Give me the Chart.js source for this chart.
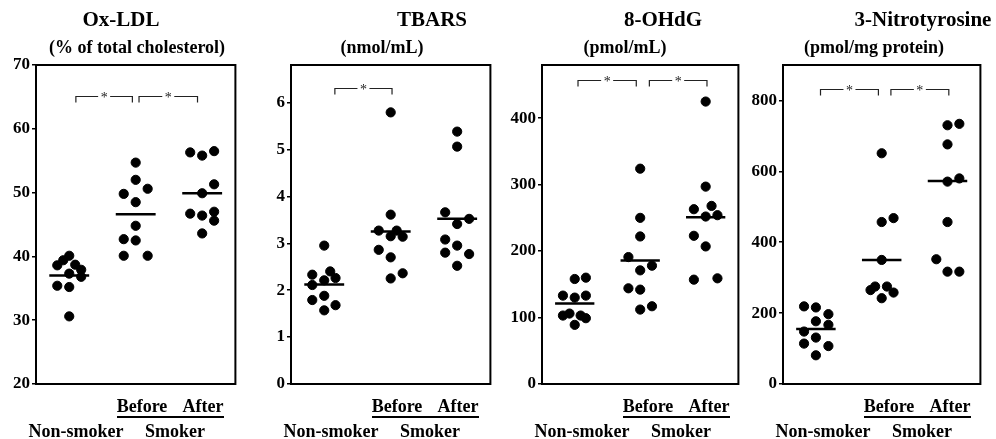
<!DOCTYPE html>
<html>
<head>
<meta charset="utf-8">
<script src="https://cdn.jsdelivr.net/npm/chart.js@4.4.1/dist/chart.umd.min.js"></script>
<style>
  body { margin: 0; background: #fff; width: 996px; height: 439px; position: relative; overflow: hidden;
         font-family: "Liberation Serif", "Times New Roman", serif; font-weight: bold; color: #000; }
  canvas { position: absolute; top: 0; }
  .t { position: absolute; transform: translate(-50%, -50%); white-space: nowrap; line-height: 1; }
  .title { font-size: 21px; }
  .unit { font-size: 18px; }
  .cat { font-size: 18px; }
  .uline { position: absolute; height: 1.5px; background: #000; }
</style>
</head>
<body>
<script>
// group centres on the x axis: Non-smoker, Before, After
const groupX = [0.5, 1.5, 2.5];

// Ox-LDL (% of total cholesterol)
const oxNon = [38.6, 39.4, 40.1, 38.7, 37.9, 36.8, 37.3, 35.4, 35.2, 30.6];
const oxNonJit = [-0.18, -0.09, 0, 0.09, 0.18, 0.18, 0, -0.18, 0, 0];
const oxBefore = [54.7, 52.0, 49.8, 50.6, 48.5, 44.8, 42.7, 42.5, 40.1, 40.1];
const oxBeforeJit = [0, 0, -0.18, 0.18, 0, 0, -0.18, 0, -0.18, 0.18];
const oxAfter = [56.3, 55.8, 56.5, 51.3, 49.9, 46.7, 46.4, 47.0, 45.6, 43.6];
const oxAfterJit = [-0.18, 0, 0.18, 0.18, 0, -0.18, 0, 0.18, 0.18, 0];
const oxMeans = [37.0, 46.6, 49.9];
const oxTicks = [20, 70, 10];

// TBARS (nmol/mL)
const tbNon = [2.95, 2.33, 2.40, 2.21, 2.26, 2.11, 1.88, 1.79, 1.68, 1.57];
const tbNonJit = [0, -0.18, 0.09, 0, 0.17, -0.18, 0, -0.18, 0.17, 0];
const tbBefore = [5.79, 3.61, 3.27, 3.27, 3.15, 3.14, 2.86, 2.70, 2.36, 2.25];
const tbBeforeJit = [0, 0, -0.18, 0.09, 0, 0.18, -0.18, 0, 0.18, 0];
const tbAfter = [5.38, 5.06, 3.66, 3.52, 3.41, 3.08, 2.95, 2.80, 2.77, 2.52];
const tbAfterJit = [0, 0, -0.18, 0.18, 0, -0.18, 0, -0.18, 0.18, 0];
const tbMeans = [2.12, 3.25, 3.52];
const tbTicks = [0, 6.8, 1];

// 8-OHdG (pmol/mL)
const ohNon = [158, 160, 133, 130, 133, 103, 106, 103, 99, 89];
const ohNonJit = [0, 0.17, -0.18, 0, 0.17, -0.18, -0.08, 0.09, 0.17, 0];
const ohBefore = [324, 250, 222, 191, 178, 171, 144, 142, 112, 117];
const ohBeforeJit = [0, 0, 0, -0.18, 0.18, 0, -0.18, 0, 0, 0.18];
const ohAfter = [425, 297, 263, 268, 254, 252, 223, 207, 157, 159];
const ohAfterJit = [0, 0, -0.18, 0.09, 0.18, 0, -0.18, 0, -0.18, 0.18];
const ohMeans = [121, 186, 251];
const ohTicks = [0, 480, 100];

// 3-Nitrotyrosine (pmol/mg protein)
const ntNon = [219, 216, 197, 177, 167, 148, 131, 114, 107, 81];
const ntNonJit = [-0.18, 0, 0.19, 0, 0.19, -0.18, 0, -0.18, 0.19, 0];
const ntBefore = [651, 457, 468, 350, 265, 275, 275, 258, 242];
const ntBeforeJit = [0, 0, 0.18, 0, -0.17, -0.1, 0.08, 0.18, 0];
const ntAfter = [730, 734, 676, 571, 580, 457, 352, 317, 317];
const ntAfterJit = [0, 0.18, 0, 0, 0.18, 0, -0.17, 0, 0.18];
const ntMeans = [155, 350, 573];
const ntTicks = [0, 900, 200];

// significance brackets: [from, to] on the x axis, and their height on the y axis
const oxBrackets = [[0.6, 1.45], [1.55, 2.43]];
const tbBrackets = [[0.66, 1.52]];
const ohBrackets = [[0.55, 1.44], [1.64, 2.52]];
const ntBrackets = [[0.57, 1.45], [1.64, 2.52]];
const bracketLevels = [65.1, 6.31, 457, 833];

const FONT = '"Liberation Serif", "Times New Roman", serif';
const AXIS_W = 50;

const panels = [
  { title: 'Ox-LDL', unit: '(% of total cholesterol)', left: 36, right: 237, titleX: 121, unitX: 137,
    groups: [[oxNon, oxNonJit], [oxBefore, oxBeforeJit], [oxAfter, oxAfterJit]],
    means: oxMeans, ticks: oxTicks, brackets: oxBrackets, level: bracketLevels[0] },
  { title: 'TBARS', unit: '(nmol/mL)', left: 291, right: 492, titleX: 432, unitX: 382,
    groups: [[tbNon, tbNonJit], [tbBefore, tbBeforeJit], [tbAfter, tbAfterJit]],
    means: tbMeans, ticks: tbTicks, brackets: tbBrackets, level: bracketLevels[1] },
  { title: '8-OHdG', unit: '(pmol/mL)', left: 542, right: 740, titleX: 663, unitX: 625,
    groups: [[ohNon, ohNonJit], [ohBefore, ohBeforeJit], [ohAfter, ohAfterJit]],
    means: ohMeans, ticks: ohTicks, brackets: ohBrackets, level: bracketLevels[2] },
  { title: '3-Nitrotyrosine', unit: '(pmol/mg protein)', left: 783, right: 982, titleX: 923, unitX: 874,
    groups: [[ntNon, ntNonJit], [ntBefore, ntBeforeJit], [ntAfter, ntAfterJit]],
    means: ntMeans, ticks: ntTicks, brackets: ntBrackets, level: bracketLevels[3] }
];

// frame around the plot and the "*" brackets
const boxAndBrackets = {
  id: 'boxAndBrackets',
  afterDatasetsDraw(chart, args, opts) {
    const { ctx, chartArea: a, scales: { x, y } } = chart;
    ctx.save();
    ctx.strokeStyle = '#000';
    ctx.lineWidth = 2;
    ctx.strokeRect(a.left, a.top, a.right - a.left, a.bottom - a.top);

    ctx.strokeStyle = '#222';
    ctx.fillStyle = '#222';
    ctx.lineWidth = 1.2;
    ctx.font = '14px ' + FONT;
    ctx.textAlign = 'center';
    ctx.textBaseline = 'middle';
    const py = Math.round(y.getPixelForValue(opts.level)) + 0.5;
    opts.brackets.forEach(([b1, b2]) => {
      const p1 = x.getPixelForValue(b1);
      const p2 = x.getPixelForValue(b2);
      const mid = (p1 + p2) / 2;
      ctx.beginPath();
      ctx.moveTo(p1, py + 6);
      ctx.lineTo(p1, py);
      ctx.lineTo(mid - 6, py);
      ctx.moveTo(mid + 6, py);
      ctx.lineTo(p2, py);
      ctx.lineTo(p2, py + 6);
      ctx.stroke();
      ctx.fillText('*', mid, py + 2);
    });
    ctx.restore();
  }
};

function addText(cls, text, x, y) {
  const d = document.createElement('div');
  d.className = 't ' + cls;
  d.textContent = text;
  d.style.left = x + 'px';
  d.style.top = y + 'px';
  document.body.appendChild(d);
}

panels.forEach(p => {
  const canvas = document.createElement('canvas');
  const w = (p.right - p.left) + AXIS_W + 4;
  canvas.width = w;
  canvas.height = 439;
  canvas.style.left = (p.left - AXIS_W) + 'px';
  document.body.appendChild(canvas);

  const datasets = [];
  p.groups.forEach(([vals, jit], g) => {
    datasets.push({
      type: 'scatter',
      data: vals.map((v, i) => ({ x: groupX[g] + jit[i], y: v })),
      backgroundColor: '#000',
      borderColor: '#000',
      pointRadius: 4.6,
      pointHoverRadius: 4.6
    });
    datasets.push({
      type: 'line',
      data: [{ x: groupX[g] - 0.3, y: p.means[g] }, { x: groupX[g] + 0.3, y: p.means[g] }],
      borderColor: '#000',
      borderWidth: 2.5,
      pointRadius: 0
    });
  });

  new Chart(canvas.getContext('2d'), {
    type: 'scatter',
    data: { datasets },
    options: {
      responsive: false,
      animation: false,
      layout: { padding: { top: 65, bottom: 55, right: 4, left: 0 } },
      scales: {
        x: { type: 'linear', min: 0, max: 3, display: false },
        y: {
          min: p.ticks[0],
          max: p.ticks[1],
          ticks: { stepSize: p.ticks[2], includeBounds: false, color: '#000', padding: 2,
                   font: { family: FONT, size: 17, weight: 'bold' } },
          grid: { display: true, drawOnChartArea: false, drawTicks: true, tickLength: 4,
                  color: '#000', lineWidth: 1.5 },
          border: { display: false },
          afterFit: s => { s.width = AXIS_W; }
        }
      },
      plugins: {
        legend: { display: false },
        tooltip: { enabled: false },
        boxAndBrackets: { brackets: p.brackets, level: p.level }
      }
    },
    plugins: [boxAndBrackets]
  });

  // headings and group labels
  addText('title', p.title, p.titleX, 19);
  addText('unit', p.unit, p.unitX, 47);
  addText('cat', 'Before', p.left + 106, 406);
  addText('cat', 'After', p.left + 167, 406);
  addText('cat', 'Non-smoker', p.left + 40, 431);
  addText('cat', 'Smoker', p.left + 139, 431);
  const u = document.createElement('div');
  u.className = 'uline';
  u.style.left = (p.left + 81) + 'px';
  u.style.width = '107px';
  u.style.top = '416px';
  document.body.appendChild(u);
});
</script>
</body>
</html>
